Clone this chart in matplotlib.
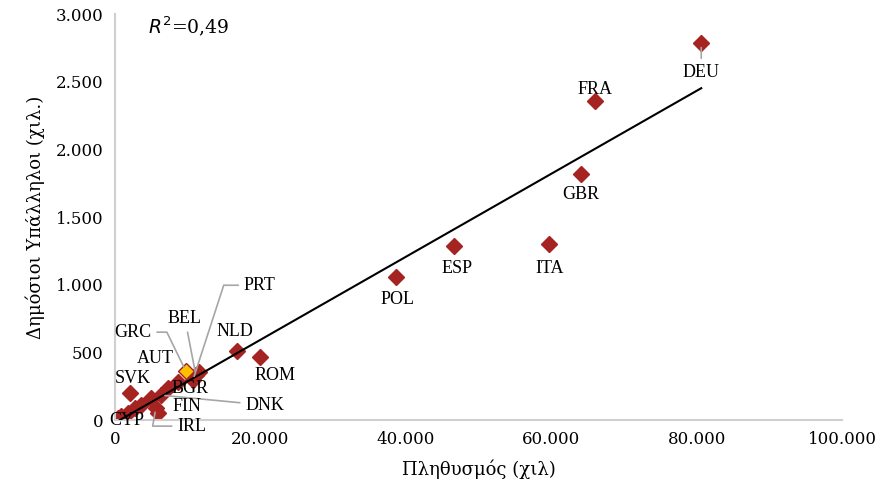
import numpy as np
import matplotlib.pyplot as plt

# population (thousands) and public employees (thousands)
countries = ['DEU', 'FRA', 'GBR', 'ITA', 'ESP', 'POL', 'ROM', 'NLD', 'GRC', 'BEL',
             'PRT', 'AUT', 'BGR', 'DNK', 'SVK', 'FIN', 'IRL', 'CYP',
             '', '', '', '', '', '']
population = [80600, 66000, 64100, 59700, 46600, 38650, 19950, 16800, 9770, 11140,
              10730, 8670, 7290, 6330, 2060, 4950, 5640, 410,
              5900, 3580, 2750, 1790, 900, 11550]
employees = [2784, 2356, 1817, 1300, 1285, 1056, 465, 510, 362, 332,
             295, 280, 236, 185, 200, 162, 89, 15,
             52, 111, 89, 52, 30, 355]
highlight = 'GRC'
r2_text = '0,49'

# label offsets in pixels (dx, dy), leader line (None / 'straight' / bend angle)
label_pos = {
    'DEU': (0, -29, 'straight'), 'FRA': (0, 12, None), 'GBR': (0, -20, None),
    'ITA': (0, -24, None), 'ESP': (3, -22, None), 'POL': (2, -22, None),
    'ROM': (15, -18, None), 'NLD': (-2, 20, None), 'SVK': (3, 15, None),
    'AUT': (-23, 24, None), 'GRC': (-53, 39, 116), 'BEL': (-11, 57, 'straight'),
    'PRT': (67, 95, 72), 'BGR': (22, 0, None), 'DNK': (104, -10, 'straight'),
    'FIN': (36, -8, None), 'IRL': (36, -18, 80), 'CYP': (9, -2, None),
}

red = '#A52422'
fig = plt.figure(figsize=(8.83, 4.88), dpi=100)
ax = fig.add_axes([0.130, 0.139, 0.824, 0.832])

x = np.array(population)
y = np.array(employees)

# trend line
b, a = np.polyfit(x, y, 1)
xs = np.array([x.min(), x.max()])
ax.plot(xs, a + b * xs, color='black', lw=1.5, zorder=3)

order = [i for i, c in enumerate(countries) if c != highlight] + \
        [i for i, c in enumerate(countries) if c == highlight]
for i in order:
    fc = '#FFC000' if countries[i] == highlight else red
    ax.plot(x[i], y[i], marker='D', ms=8, color=fc, mec=red,
            mew=1, ls='none', zorder=2)

for i, c in enumerate(countries):
    if c not in label_pos:
        continue
    dx, dy, leader = label_pos[c]
    props = None
    if leader is not None:
        props = dict(arrowstyle='-', color='#A6A6A6', lw=1.2, shrinkA=2, shrinkB=3)
        if leader != 'straight':
            props['connectionstyle'] = f'angle,angleA=0,angleB={leader},rad=0'
    ax.annotate(c, (x[i], y[i]), xytext=(dx, dy), textcoords='offset pixels',
                ha='center', va='center', fontsize=13, family='Liberation Serif',
                arrowprops=props, zorder=4)

ax.text(0.045, 0.97, '$R^2$=' + r2_text, transform=ax.transAxes, fontsize=13.5,
        family='DejaVu Serif', va='center')

ax.set_xlim(0, 100000)
ax.set_ylim(0, 3000)
ax.set_xticks(np.arange(0, 100001, 20000))
ax.set_yticks(np.arange(0, 3001, 500))
fmt = lambda v: f'{int(v):,}'.replace(',', '.')
ax.set_xticklabels([fmt(v) for v in ax.get_xticks()], family='DejaVu Serif', fontsize=12)
ax.set_yticklabels([fmt(v) for v in ax.get_yticks()], family='DejaVu Serif', fontsize=12)
ax.tick_params(length=0, pad=8)
for s in ['top', 'right']:
    ax.spines[s].set_visible(False)
for s in ['left', 'bottom']:
    ax.spines[s].set_color('#D0D0D0')
    ax.spines[s].set_linewidth(1.5)

ax.set_xlabel('Πληθυσμός (χιλ)', family='DejaVu Serif', fontsize=13, labelpad=8)
ax.set_ylabel('Δημόσιοι Υπάλληλοι (χιλ.)', family='DejaVu Serif', fontsize=13, labelpad=8)

fig.savefig('out.png', dpi=100)
